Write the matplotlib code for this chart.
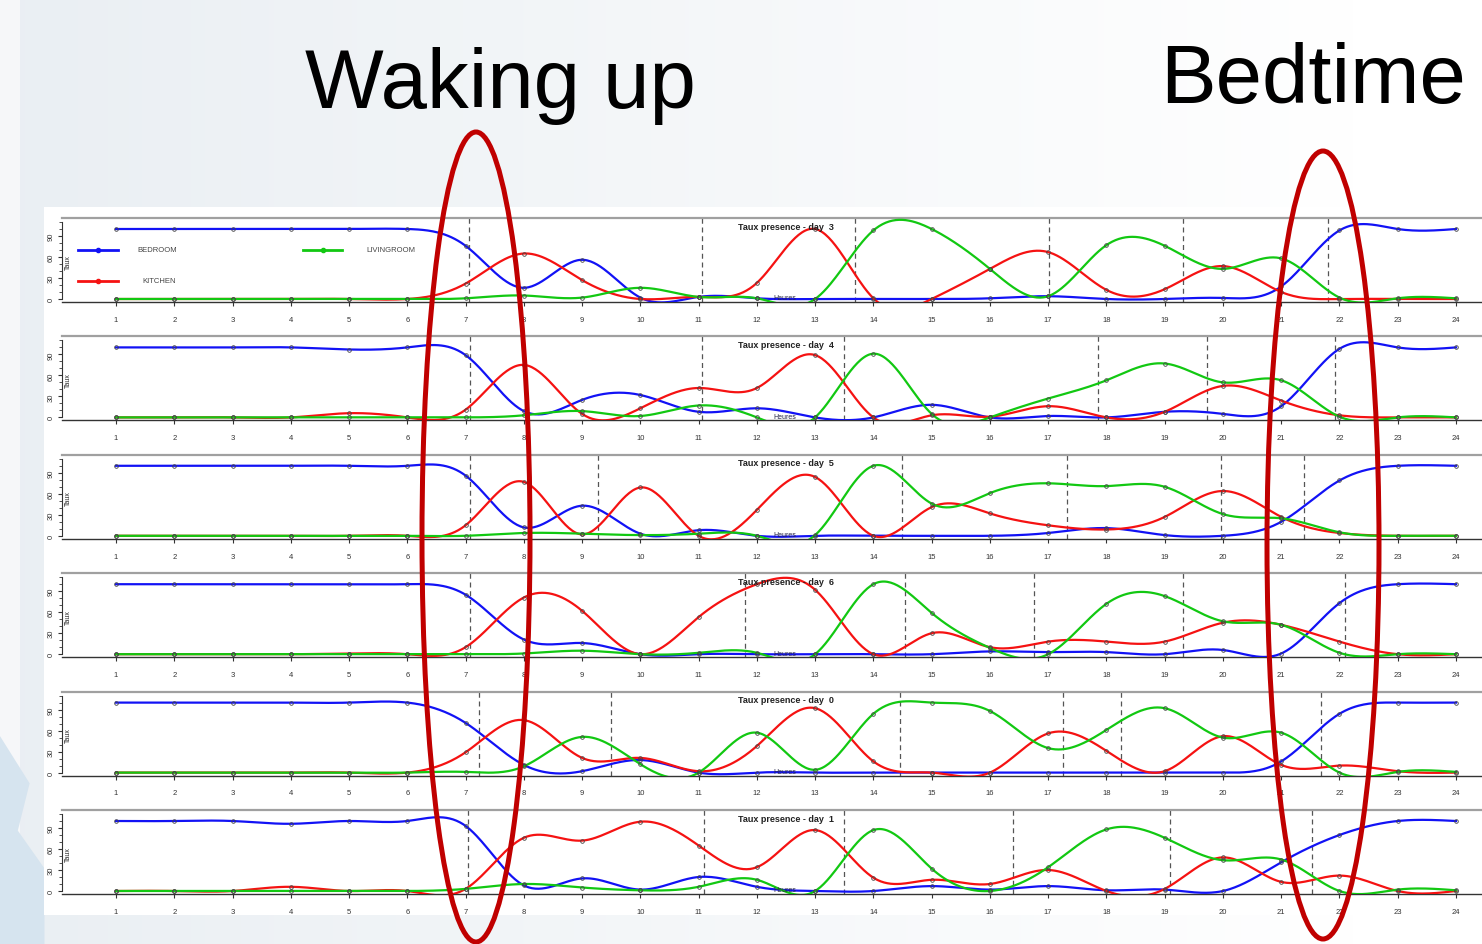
import numpy as np
import matplotlib
matplotlib.use("Agg")
import matplotlib.pyplot as plt
from matplotlib.patches import Ellipse, Rectangle, Polygon

# ---------------- data (hourly presence rate, %) ----------------
HOURS = list(range(1, 25))
DAYS = ["3", "4", "5", "6", "0", "1"]

BEDROOM_D3 = [100, 100, 100, 100, 100, 100, 76, 16, 56, 2, 3, 1, 0, 0, 0, 1, 4, 0, 0, 1.5, 18, 98, 100, 100]
KITCHEN_D3 = [0, 0, 0, 0, 0, 0, 22, 65, 27, 0, 3, 23, 100, 1, 0, 43, 67, 13, 14, 47, 10, 0, 0, 0]
LIVING_D3 = [0, 0, 0, 0, 0, 0, 1, 5, 2, 16, 3, 1, 0, 98, 100, 43, 4, 77, 76, 43, 58, 2, 1, 1]

BEDROOM_D4 = [100, 100, 100, 100, 97, 100, 89, 9, 25, 32, 8, 13, 0, 0, 18, 0, 2, 0, 8, 5, 16, 98, 100, 100]
KITCHEN_D4 = [0, 0, 0, 0, 6, 0, 11, 75, 5, 13, 42, 42, 89, 0, 3, 1, 16, 0, 8, 45, 24, 3, 0, 0]
LIVING_D4 = [0, 0, 0, 0, 0, 0, 0, 3, 9, 2, 17, 0, 0, 91, 5, 0, 27, 53, 77, 50, 53, 1, 0, 0]

BEDROOM_D5 = [100, 100, 100, 100, 100, 100, 86, 12, 43, 3, 8, 0, 0, 0, 0, 0, 4, 11, 1, 0, 20, 79, 100, 100]
KITCHEN_D5 = [0, 0, 0, 0, 0, 0, 15, 77, 2, 69, 0, 37, 84, 0, 41, 32, 15, 9, 27, 64, 27, 4, 0, 0]
LIVING_D5 = [0, 0, 0, 0, 0, 0, 0, 4, 3, 1, 3, 0, 1, 100, 46, 61, 75, 71, 70, 31, 25, 5, 0, 0]

BEDROOM_D6 = [100, 100, 100, 100, 100, 100, 85, 21, 16, 0, 0, 0, 0, 0, 0, 4, 3, 3, 0, 6, 1, 73, 100, 100]
KITCHEN_D6 = [0, 0, 0, 0, 1, 0, 10, 81, 62, 0, 53, 100, 92, 0, 30, 10, 18, 18, 18, 45, 42, 18, 0, 0]
LIVING_D6 = [0, 0, 0, 0, 0, 0, 0, 1, 5, 0, 2, 2, 0, 100, 59, 9, 0, 72, 83, 47, 42, 2, 0, 0]

BEDROOM_D0 = [100, 100, 100, 100, 100, 100, 71, 11, 2, 18, 0, 0, 0, 0, 0, 0, 0, 0, 0, 0, 16, 84, 100, 100]
KITCHEN_D0 = [0, 0, 0, 0, 0, 0, 29, 75, 21, 21, 2, 38, 92, 16, 0, 0, 56, 31, 2, 52, 11, 10, 2, 0]
LIVING_D0 = [0, 0, 0, 0, 0, 0, 1, 9, 51, 12, 0, 57, 4, 84, 100, 88, 35, 61, 92, 50, 57, 0, 1, 1]

BEDROOM_D1 = [100, 100, 100, 96, 100, 100, 93, 8, 18, 2, 20, 6, 0, 0, 7, 2, 7, 1, 2, 0, 41, 80, 100, 100]
KITCHEN_D1 = [0, 0, 0, 6, 0, 0, 3, 76, 72, 99, 65, 34, 87, 19, 16, 10, 30, 0, 3, 48, 13, 22, 0, 0]
LIVING_D1 = [0, 0, 0, 0, 0, 0, 3, 10, 5, 1, 6, 16, 0, 87, 32, 0, 34, 88, 76, 44, 45, 0, 2, 1]

# dashed separators (hours)
SEP_D3 = [7.06, 11.06, 13.68, 17.01, 19.31, 21.80]
SEP_D4 = [7.08, 11.06, 13.50, 17.86, 19.73, 21.92]
SEP_D5 = [7.07, 9.28, 14.49, 17.33, 19.97, 21.39]
SEP_D6 = [7.07, 11.80, 14.55, 16.75, 19.31, 22.10]
SEP_D0 = [7.23, 9.50, 14.46, 17.25, 18.25, 21.69]
SEP_D1 = [7.05, 11.09, 13.50, 16.39, 19.09, 21.52]

BEDROOM = [BEDROOM_D3, BEDROOM_D4, BEDROOM_D5, BEDROOM_D6, BEDROOM_D0, BEDROOM_D1]
KITCHEN = [KITCHEN_D3, KITCHEN_D4, KITCHEN_D5, KITCHEN_D6, KITCHEN_D0, KITCHEN_D1]
LIVING = [LIVING_D3, LIVING_D4, LIVING_D5, LIVING_D6, LIVING_D0, LIVING_D1]
SEPS = [SEP_D3, SEP_D4, SEP_D5, SEP_D6, SEP_D0, SEP_D1]

ROOM_LABELS = ["BEDROOM", "KITCHEN", "LIVINGROOM"]
BLUE, RED, GREEN = "#1212f5", "#f51212", "#12c812"


def natural_spline(x, y, xs):
    x = np.asarray(x, float)
    y = np.asarray(y, float)
    n = len(x)
    h = np.diff(x)
    A = np.zeros((n, n))
    r = np.zeros(n)
    A[0, 0] = A[-1, -1] = 1.0
    for i in range(1, n - 1):
        A[i, i - 1] = h[i - 1]
        A[i, i] = 2 * (h[i - 1] + h[i])
        A[i, i + 1] = h[i]
        r[i] = 6 * ((y[i + 1] - y[i]) / h[i] - (y[i] - y[i - 1]) / h[i - 1])
    M = np.linalg.solve(A, r)
    idx = np.clip(np.searchsorted(x, xs) - 1, 0, n - 2)
    x0, x1 = x[idx], x[idx + 1]
    hh = x1 - x0
    a = (x1 - xs) / hh
    b = (xs - x0) / hh
    return (a * y[idx] + b * y[idx + 1]
            + ((a ** 3 - a) * M[idx] + (b ** 3 - b) * M[idx + 1]) * hh ** 2 / 6)


W, H = 1482, 945
fig = plt.figure(figsize=(W / 100, H / 100), dpi=100)

# ---------------- background ----------------
bg = fig.add_axes([0, 0, 1, 1])
bg.set_axis_off()
xx = np.linspace(0, 1, W)
grad = np.empty((H, W, 3))
start = np.array([0.918, 0.937, 0.953])
end = np.array([1.0, 1.0, 1.0])
t = np.clip((xx - 0.013) / 0.9, 0, 1)[None, :, None]
grad[:] = start * (1 - t) + end * t
grad[:, :20, :] = [0.965, 0.972, 0.98]
bg.imshow(grad, extent=[0, 1, 0, 1], aspect="auto", zorder=0)
bg.set_xlim(0, 1)
bg.set_ylim(0, 1)
bg.add_patch(Polygon([[0, 0], [0, 0.22], [0.02, 0.17], [0.012, 0.12], [0.03, 0.08],
                      [0.03, 0]], closed=True, fc="#d6e4ef", ec="none", zorder=1))
bg.add_patch(Rectangle((44 / W, 1 - 916 / H), (W - 44) / W, (916 - 208) / H,
                       fc="white", ec="none", zorder=2))

# ---------------- panels ----------------
PX_PER_UNIT = 0.70
left_px, right_px = 62, 1482
x_lo = 1 - (116 - left_px) / 58.26
x_hi = 24 + (right_px - 1456) / 58.26
xs = np.linspace(1, 24, 800)

for k in range(6):
    zero_px = 300 + k * 118.4
    bottom_px = zero_px + 3
    top_px = bottom_px - 84
    ax = fig.add_axes([left_px / W, 1 - bottom_px / H, (right_px - left_px) / W, 84 / H])
    ax.set_facecolor("none")
    ax.set_xlim(x_lo, x_hi)
    ax.set_ylim(-3 / PX_PER_UNIT, 81 / PX_PER_UNIT)

    for vx in SEPS[k]:
        ax.axvline(vx, color="#555555", ls=(0, (4, 3)), lw=0.9, zorder=1)

    for vals, col in ((BEDROOM[k], BLUE), (KITCHEN[k], RED), (LIVING[k], GREEN)):
        ax.plot(xs, natural_spline(HOURS, vals, xs), color=col, lw=1.6, zorder=3)
        ax.plot(HOURS, vals, "o", ms=2.6, mfc="none", mec="#444444", mew=0.6, zorder=4)

    ax.text(12.5, 104, f"Taux presence - day  {DAYS[k]}", ha="center", va="center",
            fontsize=6.5, fontweight="bold", family="Liberation Sans", color="#222222", zorder=5)
    ax.text(12.48, 1.5, "Heures", ha="center", va="center", fontsize=5,
            family="Liberation Sans", color="#222244", zorder=5)
    ax.text(0.18, 54, "Taux", ha="center", va="center", rotation=90, fontsize=5,
            family="Liberation Sans", color="#222222")

    for s in ("right",):
        ax.spines[s].set_visible(False)
    ax.spines["top"].set_color("#a0a0a0")
    ax.spines["top"].set_linewidth(1.6)
    ax.spines["bottom"].set_color("#333333")
    ax.spines["bottom"].set_linewidth(1.0)
    ax.spines["left"].set_color("#333333")
    ax.spines["left"].set_linewidth(0.8)
    ax.spines["left"].set_bounds(0, 110)

    ax.set_xticks(HOURS)
    ax.set_xticklabels([str(h) for h in HOURS])
    ax.set_yticks([0, 30, 60, 90])
    ax.set_yticks([10, 20, 40, 50, 70, 80, 100, 110], minor=True)
    ax.tick_params(axis="x", length=3, width=0.8, pad=7, labelsize=5.5, colors="#333333")
    ax.tick_params(axis="y", which="major", length=3, width=0.8, pad=2.5, labelsize=5.5,
                   labelrotation=90, colors="#333333")
    ax.tick_params(axis="y", which="minor", length=2, width=0.6, colors="#333333")
    for lab in ax.get_yticklabels():
        lab.set_va("center")
    for lab in ax.get_xticklabels() + ax.get_yticklabels():
        lab.set_family("Liberation Sans")

    if k == 0:
        for (x0, x1, y, col, tx, label) in ((0.35, 1.03, 70, BLUE, 1.36, ROOM_LABELS[0]),
                                            (0.35, 1.03, 26, RED, 1.45, ROOM_LABELS[1]),
                                            (4.21, 4.88, 70, GREEN, 5.29, ROOM_LABELS[2])):
            ax.plot([x0, x1], [y, y], color=col, lw=2.0, zorder=3)
            ax.plot([(x0 + x1) / 2], [y], "o", color=col, ms=3, zorder=4)
            ax.text(tx, y, label, ha="left", va="center", fontsize=5.5,
                    family="Liberation Sans", color="#444444")

# ---------------- annotations ----------------
fig.text(305 / W, 1 - 108 / H, "Waking up", fontsize=60, family="Liberation Sans",
         ha="left", va="baseline", color="black")
fig.text(1160 / W, 1 - 103 / H, "Bedtime", fontsize=60, family="Liberation Sans",
         ha="left", va="baseline", color="black")

fig.add_artist(Ellipse((476 / W, 1 - 538 / H), 108 / W, 810 / H, transform=fig.transFigure,
                       fill=False, ec="#c00000", lw=3.6, zorder=10))
fig.add_artist(Ellipse((1323 / W, 1 - 546 / H), 112 / W, 788 / H, transform=fig.transFigure,
                       fill=False, ec="#c00000", lw=3.6, zorder=10))

fig.savefig("out.png", dpi=100)
